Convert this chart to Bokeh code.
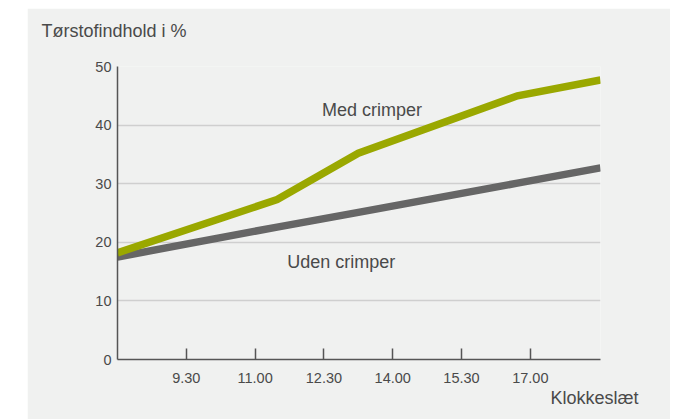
from bokeh.plotting import figure
from bokeh.models import Range1d, FixedTicker, Label, Title
from bokeh.embed import file_html
from bokeh.resources import INLINE

# Data (hours of day; 9.30 = half past nine -> 9.5)
tick_hours = [9.5, 11.0, 12.5, 14.0, 15.5, 17.0]
tick_labels = ["9.30", "11.00", "12.30", "14.00", "15.30", "17.00"]
y_ticks = [0, 10, 20, 30, 40, 50]

med_hours = [8.0, 11.48, 13.25, 16.72, 18.53]
med_values = [18.2, 27.3, 35.2, 45.0, 47.7]

uden_hours = [8.0, 11.48, 13.25, 16.72, 18.53]
uden_values = [17.5, 22.6, 25.1, 30.1, 32.7]

BG = "#f0f1f0"
TXT = "#4a4a4a"
FONT = "Liberation Sans"

p = figure(width=643, height=411, output_backend="svg", toolbar_location=None,
           x_range=Range1d(8.0, 18.53), y_range=Range1d(0, 50),
           min_border_left=90, min_border_right=70, min_border_top=58, min_border_bottom=60)
p.margin = (8, 0, 0, 27)
p.background_fill_color = BG
p.border_fill_color = BG
p.outline_line_color = None

# grid
p.xgrid.grid_line_color = None
p.ygrid.ticker = FixedTicker(ticks=y_ticks[1:])
p.ygrid.grid_line_color = "#cfcfcf"
p.ygrid.grid_line_width = 1.5

# y axis
p.yaxis.ticker = FixedTicker(ticks=y_ticks)
p.yaxis.major_tick_in = 0
p.yaxis.major_tick_out = 0
p.yaxis.minor_tick_line_color = None
p.yaxis.axis_line_color = "#555555"
p.yaxis.axis_line_width = 1.5
p.yaxis.major_label_standoff = 6
p.yaxis.major_label_text_font = FONT
p.yaxis.major_label_text_font_size = "14.5px"
p.yaxis.major_label_text_color = TXT

# x axis
p.xaxis.ticker = FixedTicker(ticks=tick_hours)
p.xaxis.major_label_overrides = {h: l for h, l in zip(tick_hours, tick_labels)}
p.xaxis.major_tick_in = 11
p.xaxis.major_tick_out = 0
p.xaxis.major_tick_line_color = "#555555"
p.xaxis.major_tick_line_width = 1.5
p.xaxis.minor_tick_line_color = None
p.xaxis.axis_line_color = "#555555"
p.xaxis.axis_line_width = 1.5
p.xaxis.major_label_standoff = 13
p.xaxis.major_label_text_font = FONT
p.xaxis.major_label_text_font_size = "14.5px"
p.xaxis.major_label_text_color = TXT

# lines
p.line(uden_hours, uden_values, line_color="#666666", line_width=7.5, line_join="miter", line_cap="butt")
p.line(med_hours, med_values, line_color="#9aa800", line_width=7.5, line_join="miter", line_cap="butt")

# in-plot labels
def lab(x, y, t):
    p.add_layout(Label(x=x, y=y, text=t, text_font=FONT, text_font_size="18px",
                       text_color=TXT, text_align="left", text_baseline="middle"))

lab(12.46, 42.5, "Med crimper")
lab(11.70, 16.6, "Uden crimper")

# spacer panel between the frame and the top text
spacer = Title(text=" ", text_font_size="1px", standoff=23, text_color=BG)
p.add_layout(spacer, "above")
top = Title(text="Tørstofindhold i %", align="left", offset=-76, text_font=FONT,
            text_font_size="18px", text_color=TXT, text_font_style="normal", standoff=0)
p.add_layout(top, "above")
bottom = Title(text="Klokkeslæt", align="right", offset=-38, text_font=FONT,
               text_font_size="18px", text_color=TXT, text_font_style="normal", standoff=0)
p.add_layout(bottom, "below")

open("out.html", "w").write(file_html(p, INLINE))
